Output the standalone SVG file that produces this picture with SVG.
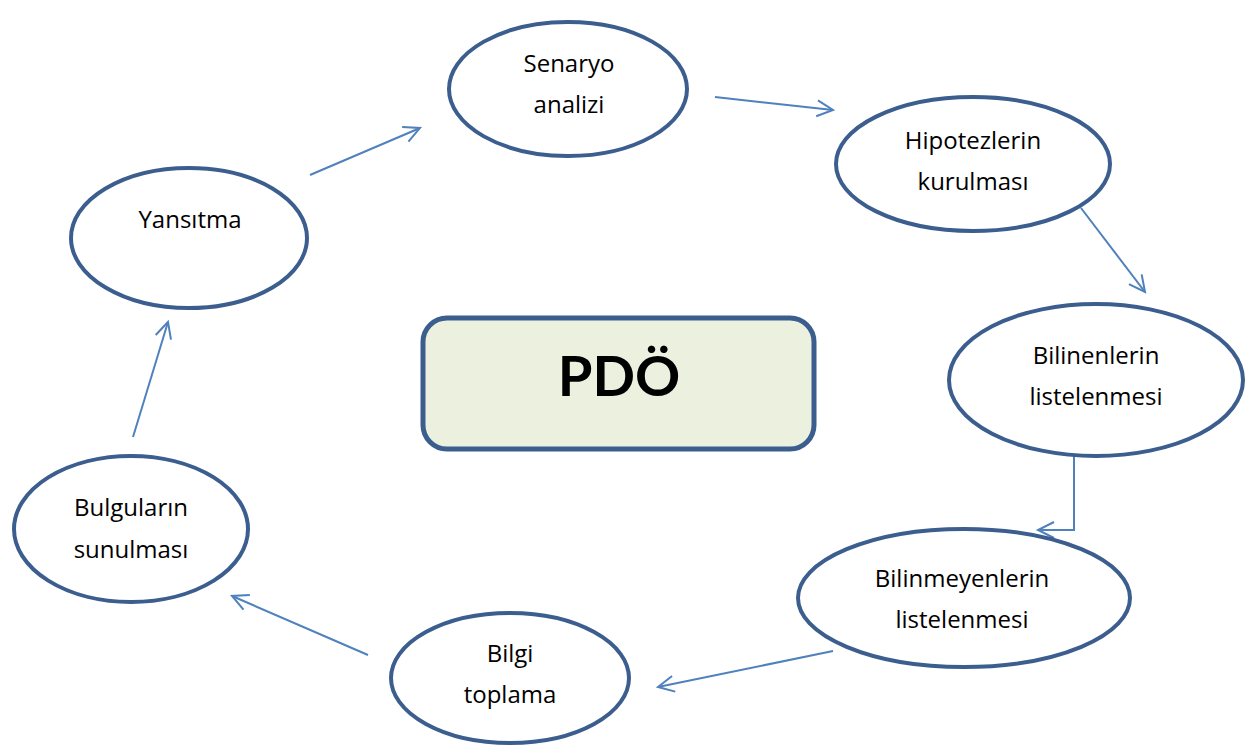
<svg xmlns="http://www.w3.org/2000/svg" width="1251" height="749" viewBox="0 0 1251 749">
<style>
.n{fill:#fff;stroke:#3B5E8F;stroke-width:4}
.t{font-family:"Open Sans",Lato,"Liberation Sans",sans-serif;font-size:24px;fill:#000;text-anchor:middle}
.c{fill:none;stroke:#4F81BD;stroke-width:2}
</style>
<defs>
<marker id="a" markerWidth="20" markerHeight="20" refX="18" refY="10" orient="auto" markerUnits="userSpaceOnUse" overflow="visible">
<path d="M2,2 L18,10 L2,18" fill="none" stroke="#4F81BD" stroke-width="2"/>
</marker>
</defs>
<rect width="1251" height="749" fill="#fff"/>
<g id="connectors">
<path class="c" d="M310,175 L420,128" marker-end="url(#a)"/>
<path class="c" d="M715,97 L833,110" marker-end="url(#a)"/>
<path class="c" d="M1081,208 L1145,292" marker-end="url(#a)"/>
<path class="c" d="M1111,456 L1074,456 L1074,530 L1038,530" marker-end="url(#a)"/>
<path class="c" d="M833,651 L658,687" marker-end="url(#a)"/>
<path class="c" d="M368,655 L232,596" marker-end="url(#a)"/>
<path class="c" d="M133,437 L168,322" marker-end="url(#a)"/>
</g>
<g id="center">
<rect x="423" y="318" width="391" height="131" rx="24" fill="#EBF0DF" stroke="#3B5E8F" stroke-width="5"/>
<text x="619" y="396" font-family="Lato,'Open Sans','Liberation Sans',sans-serif" font-size="56" font-weight="bold" text-anchor="middle">PDÖ</text>
</g>
<g id="senaryo">
<ellipse class="n" cx="568" cy="89" rx="119" ry="67"/>
<text class="t" x="569" y="72">Senaryo</text>
<text class="t" x="569" y="113">analizi</text>
</g>
<g id="hipotez">
<ellipse class="n" cx="973" cy="164" rx="137" ry="67"/>
<text class="t" x="973" y="149">Hipotezlerin</text>
<text class="t" x="973" y="190">kurulması</text>
</g>
<g id="bilinenler">
<ellipse class="n" cx="1096" cy="380" rx="147" ry="76"/>
<text class="t" x="1096" y="364">Bilinenlerin</text>
<text class="t" x="1096" y="405">listelenmesi</text>
</g>
<g id="bilinmeyenler">
<ellipse class="n" cx="964" cy="598" rx="166" ry="69"/>
<text class="t" x="962" y="587">Bilinmeyenlerin</text>
<text class="t" x="962" y="628">listelenmesi</text>
</g>
<g id="bilgi">
<ellipse class="n" cx="510" cy="678" rx="119" ry="65"/>
<text class="t" x="510" y="662">Bilgi</text>
<text class="t" x="510" y="703">toplama</text>
</g>
<g id="bulgular">
<ellipse class="n" cx="131" cy="529" rx="117" ry="73"/>
<text class="t" x="131" y="516">Bulguların</text>
<text class="t" x="131" y="558">sunulması</text>
</g>
<g id="yansitma">
<ellipse class="n" cx="189" cy="238" rx="118" ry="70"/>
<text class="t" x="190" y="228">Yansıtma</text>
</g>
</svg>
